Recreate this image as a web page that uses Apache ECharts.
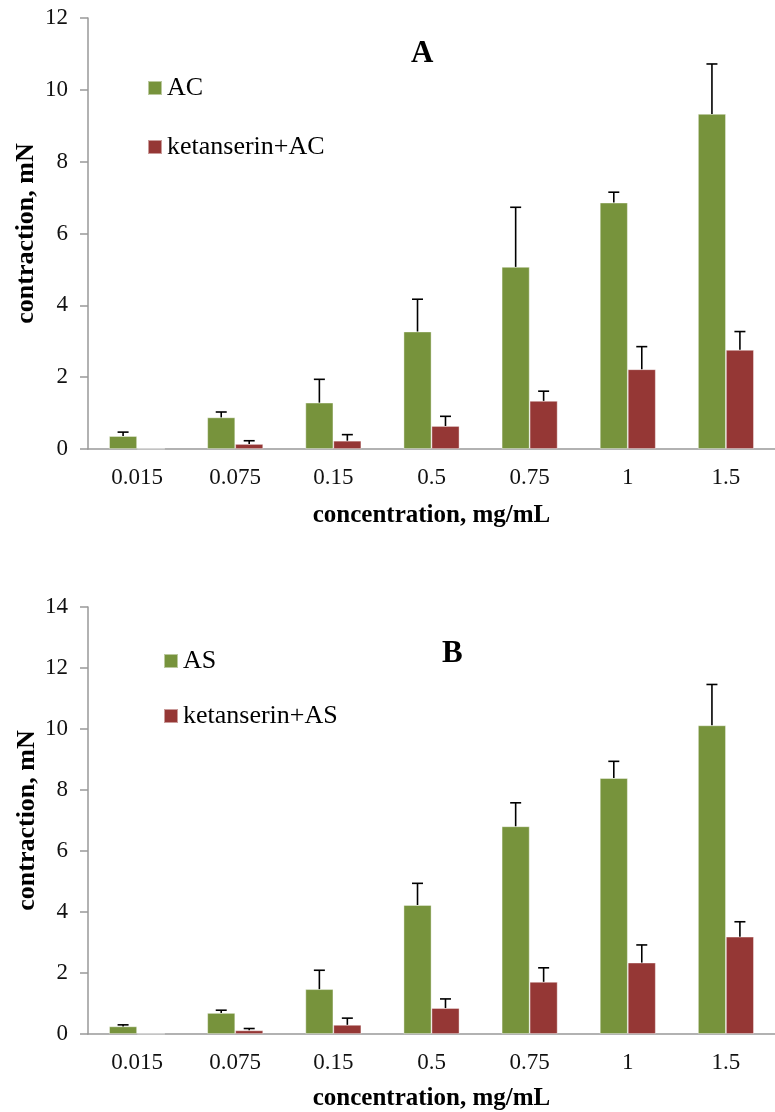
<!DOCTYPE html>
<html>
<head>
<meta charset="utf-8">
<script src="https://cdn.jsdelivr.net/npm/echarts@6/dist/echarts.min.js"></script>
<style>
  html, body { margin: 0; padding: 0; background: #fff; }
  #chart { width: 775px; height: 1112px; }
</style>
</head>
<body>
<div id="chart"></div>
<script>
// Concentrations (mg/mL) shared by both panels
const categories = ['0.015', '0.075', '0.15', '0.5', '0.75', '1', '1.5'];

// Panel A: contraction (mN), mean and upper error-bar end
const acMean = [0.36, 0.88, 1.29, 3.27, 5.07, 6.86, 9.33];
const acUpper = [0.47, 1.03, 1.94, 4.17, 6.73, 7.15, 10.72];
const ketAcMean = [0.01, 0.14, 0.23, 0.64, 1.34, 2.22, 2.76];
const ketAcUpper = [0.01, 0.23, 0.40, 0.91, 1.61, 2.85, 3.27];

// Panel B
const asMean = [0.25, 0.69, 1.47, 4.23, 6.81, 8.39, 10.12];
const asUpper = [0.30, 0.78, 2.09, 4.94, 7.58, 8.94, 11.46];
const ketAsMean = [0.01, 0.12, 0.30, 0.85, 1.71, 2.34, 3.19];
const ketAsUpper = [0.01, 0.18, 0.52, 1.15, 2.17, 2.92, 3.68];

const GREEN = '#77933C';
const RED = '#953735';
const FONT = '"Liberation Serif", "Times New Roman", serif';
const BAR_PCT = 0.285;

function errData(mean, upper) {
  return mean.map((m, i) => [i, m, upper[i]]);
}

// Vertical error bar with a cap, drawn over the bar at the given side of the category
function errorRenderer(side) {
  return function (params, api) {
    const ci = api.value(0);
    const base = api.coord([ci, api.value(1)]);
    const top = api.coord([ci, api.value(2)]);
    if (Math.abs(base[1] - top[1]) < 1) return null;
    const band = api.size([1, 0])[0];
    const x = base[0] + side * band * BAR_PCT / 2;
    const cap = 5.5;
    return {
      type: 'group',
      children: [
        { type: 'line', shape: { x1: x, y1: base[1], x2: x, y2: top[1] },
          style: { stroke: '#000', lineWidth: 1.6 } },
        { type: 'line', shape: { x1: x - cap, y1: top[1], x2: x + cap, y2: top[1] },
          style: { stroke: '#000', lineWidth: 1.6 } }
      ]
    };
  };
}

function xAxis(gridIndex, gap) {
  return {
    type: 'category', gridIndex, data: categories,
    axisLine: { lineStyle: { color: '#999', width: 1.5 } },
    axisTick: { show: false },
    axisLabel: { color: '#111', fontFamily: FONT, fontSize: 23, margin: 17 },
    name: 'concentration, mg/mL', nameLocation: 'middle', nameGap: gap,
    nameMoveOverlap: false,
    nameTextStyle: { color: '#000', fontFamily: FONT, fontSize: 25, fontWeight: 'bold' }
  };
}

function yAxis(gridIndex, max, gap) {
  return {
    type: 'value', gridIndex, min: 0, max, interval: 2,
    axisLine: { show: true, lineStyle: { color: '#999', width: 1.5 } },
    axisTick: { show: true, length: 8, lineStyle: { color: '#999', width: 1.5 } },
    splitLine: { show: false },
    axisLabel: { color: '#111', fontFamily: FONT, fontSize: 23, margin: 20 },
    name: 'contraction, mN', nameLocation: 'middle', nameGap: gap, nameRotate: 90,
    nameMoveOverlap: false,
    nameTextStyle: { color: '#000', fontFamily: FONT, fontSize: 26, fontWeight: 'bold' }
  };
}

function barSeries(name, data, color, axisIndex) {
  return {
    name, type: 'bar', data, xAxisIndex: axisIndex, yAxisIndex: axisIndex,
    barWidth: (BAR_PCT * 100) + '%', barGap: '0%',
    itemStyle: { color, borderColor: 'rgba(255,255,255,0.5)', borderWidth: 0.8 },
    silent: true
  };
}

function errSeries(mean, upper, side, axisIndex) {
  return {
    type: 'custom', xAxisIndex: axisIndex, yAxisIndex: axisIndex,
    data: errData(mean, upper), renderItem: errorRenderer(side),
    encode: { x: 0, y: [1, 2] }, z: 5, silent: true
  };
}

const legendText = { color: '#000', fontFamily: FONT, fontSize: 26 };

const chart = echarts.init(document.getElementById('chart'), null, { renderer: 'canvas' });
chart.setOption({
  animation: false,
  backgroundColor: '#fff',
  title: [
    { text: 'A', left: 411, top: 38, padding: 0, textStyle: { fontFamily: FONT, fontSize: 31, fontWeight: 'bold', color: '#000' } },
    { text: 'B', left: 442, top: 638, padding: 0, textStyle: { fontFamily: FONT, fontSize: 31, fontWeight: 'bold', color: '#000' } }
  ],
  legend: [
    { data: ['AC', 'ketanserin+AC'], orient: 'vertical', left: 147, top: 75, padding: 0,
      itemWidth: 14, itemHeight: 14, itemGap: 33, icon: 'rect', textStyle: legendText },
    { data: ['AS', 'ketanserin+AS'], orient: 'vertical', left: 163, top: 648, padding: 0,
      itemWidth: 14, itemHeight: 14, itemGap: 29, icon: 'rect', textStyle: legendText }
  ],
  grid: [
    { left: 88, top: 18, width: 695, height: 431 },
    { left: 88, top: 607, width: 704, height: 427 }
  ],
  xAxis: [xAxis(0, 54), xAxis(1, 52)],
  yAxis: [yAxis(0, 12, 49), yAxis(1, 14, 48)],
  series: [
    barSeries('AC', acMean, GREEN, 0),
    barSeries('ketanserin+AC', ketAcMean, RED, 0),
    errSeries(acMean, acUpper, -1, 0),
    errSeries(ketAcMean, ketAcUpper, 1, 0),
    barSeries('AS', asMean, GREEN, 1),
    barSeries('ketanserin+AS', ketAsMean, RED, 1),
    errSeries(asMean, asUpper, -1, 1),
    errSeries(ketAsMean, ketAsUpper, 1, 1)
  ]
});
</script>
</body>
</html>
